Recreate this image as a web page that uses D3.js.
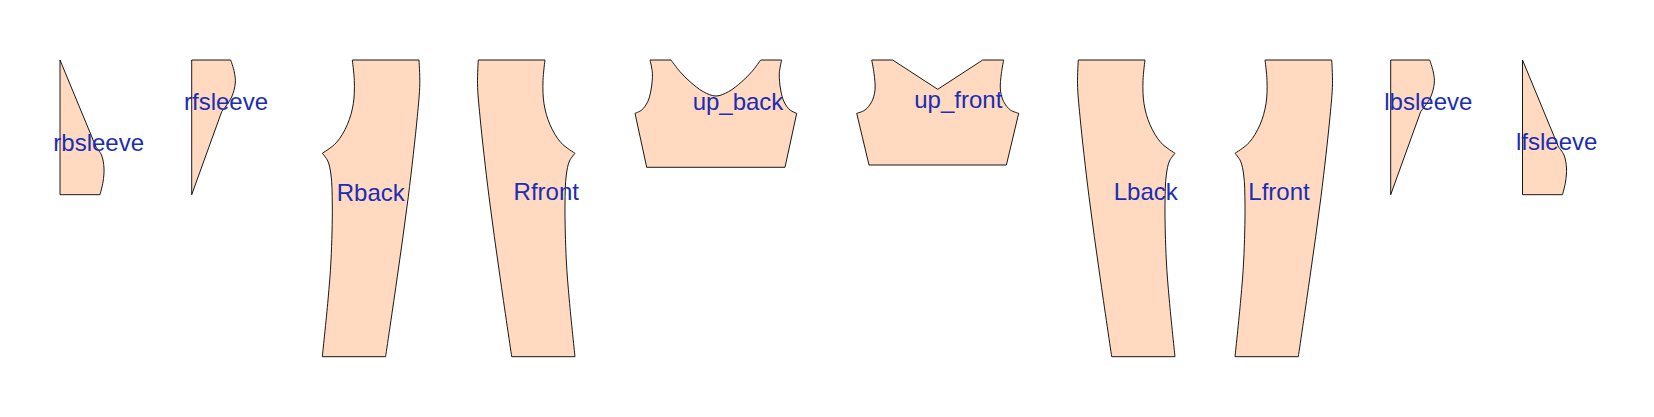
<!DOCTYPE html>
<html>
<head>
<meta charset="utf-8">
<script src="https://cdn.jsdelivr.net/npm/d3@7"></script>
<style>
    body { margin: 0; background: #ffffff; }
</style>
</head>
<body>
<div id="pattern"></div>
<script>
// Pattern pieces, each outline is a list of segments (2 points = straight, more = curve)
// units are pattern units, y goes up from the hem line
const pieceNames = ["rbsleeve", "rfsleeve", "Rback", "Rfront", "up_back", "up_front", "Lback", "Lfront", "lbsleeve", "lfsleeve"];

const rbsleeve = [
    [[0, 29.67], [3.6, 20.97]],
    [[3.6, 20.97], [4.15, 20.17], [4.4, 18.87], [4.3, 17.47], [4.0, 16.2]],
    [[4.0, 16.2], [0, 16.2]],
    [[0, 16.2], [0, 29.67]]
];
const rfsleeve = [
    [[13.17, 29.67], [17.07, 29.67]],
    [[17.07, 29.67], [17.43, 28.47], [17.53, 27.37], [17.17, 25.97], [16.6, 25.07], [16.17, 24.5]],
    [[16.17, 24.5], [13.17, 16.2]],
    [[13.17, 16.2], [13.17, 29.67]]
];
const Rback = [
    [[29.23, 29.67], [35.9, 29.67]],
    [[35.9, 29.67], [35.98, 27.3], [35.73, 24.0], [34.83, 16.0], [33.73, 8.0], [32.56, 0]],
    [[32.56, 0], [26.23, 0]],
    [[26.23, 0], [26.8, 5.67], [27.1, 9.67], [27.23, 15.17], [27.1, 18.17], [26.78, 19.57], [26.23, 20.34]],
    [[26.23, 20.34], [27.63, 21.4], [28.73, 23.2], [29.33, 25.3], [29.43, 27.6], [29.23, 29.67]]
];
const Rfront = [
    [[41.83, 29.67], [48.5, 29.67]],
    [[48.5, 29.67], [48.3, 27.6], [48.4, 25.3], [49.0, 23.2], [50.1, 21.4], [51.5, 20.34]],
    [[51.5, 20.34], [50.95, 19.57], [50.63, 18.17], [50.5, 15.17], [50.63, 9.67], [50.93, 5.67], [51.5, 0]],
    [[51.5, 0], [45.17, 0]],
    [[45.17, 0], [44.0, 8.0], [42.9, 16.0], [42.0, 24.0], [41.75, 27.3], [41.83, 29.67]]
];
const up_back = [
    [[59.0, 29.67], [61.1, 29.67]],
    [[61.1, 29.67], [62.0, 28.5], [63.0, 27.5], [64.33, 26.5], [65.59, 26.07], [66.85, 26.5], [68.18, 27.5], [69.18, 28.5], [70.07, 29.67]],
    [[70.07, 29.67], [72.17, 29.67]],
    [[72.17, 29.67], [71.93, 28.34], [72.07, 26.67], [72.4, 25.5], [73.0, 24.67], [73.67, 24.34]],
    [[73.67, 24.34], [72.5, 18.94]],
    [[72.5, 18.94], [58.67, 18.94]],
    [[58.67, 18.94], [57.5, 24.34]],
    [[57.5, 24.34], [58.17, 24.67], [58.77, 25.5], [59.1, 26.67], [59.24, 28.34], [59.0, 29.67]]
];
const up_front = [
    [[81.17, 29.67], [83.27, 29.67]],
    [[83.27, 29.67], [87.77, 26.74]],
    [[87.77, 26.74], [92.27, 29.67]],
    [[92.27, 29.67], [94.37, 29.67]],
    [[94.37, 29.67], [94.14, 28.34], [94.04, 26.67], [94.37, 25.5], [95.04, 24.67], [95.87, 24.34]],
    [[95.87, 24.34], [94.64, 19.17]],
    [[94.64, 19.17], [80.9, 19.17]],
    [[80.9, 19.17], [79.67, 24.34]],
    [[79.67, 24.34], [80.5, 24.67], [81.17, 25.5], [81.5, 26.67], [81.4, 28.34], [81.17, 29.67]]
];
const Lback = [
    [[101.83, 29.67], [108.5, 29.67]],
    [[108.5, 29.67], [108.3, 27.6], [108.4, 25.3], [109.0, 23.2], [110.1, 21.4], [111.5, 20.34]],
    [[111.5, 20.34], [110.95, 19.57], [110.63, 18.17], [110.5, 15.17], [110.63, 9.67], [110.93, 5.67], [111.5, 0]],
    [[111.5, 0], [105.17, 0]],
    [[105.17, 0], [104.0, 8.0], [102.9, 16.0], [102.0, 24.0], [101.75, 27.3], [101.83, 29.67]]
];
const Lfront = [
    [[120.5, 29.67], [127.17, 29.67]],
    [[127.17, 29.67], [127.25, 27.3], [127.0, 24.0], [126.1, 16.0], [125.0, 8.0], [123.83, 0]],
    [[123.83, 0], [117.5, 0]],
    [[117.5, 0], [118.07, 5.67], [118.37, 9.67], [118.5, 15.17], [118.37, 18.17], [118.05, 19.57], [117.5, 20.34]],
    [[117.5, 20.34], [118.9, 21.4], [120.0, 23.2], [120.6, 25.3], [120.7, 27.6], [120.5, 29.67]]
];
const lbsleeve = [
    [[133.07, 29.67], [136.97, 29.67]],
    [[136.97, 29.67], [137.33, 28.47], [137.43, 27.37], [137.07, 25.97], [136.5, 25.07], [136.07, 24.5]],
    [[136.07, 24.5], [133.07, 16.2]],
    [[133.07, 16.2], [133.07, 29.67]]
];
const lfsleeve = [
    [[146.25, 29.67], [149.85, 20.97]],
    [[149.85, 20.97], [150.4, 20.17], [150.65, 18.87], [150.55, 17.47], [150.25, 16.2]],
    [[150.25, 16.2], [146.25, 16.2]],
    [[146.25, 16.2], [146.25, 29.67]]
];

// label anchor points (centre of the text)
const labelX = [3.87, 16.6, 31.08, 48.63, 67.8, 89.83, 108.58, 121.9, 136.83, 149.67];
const labelY = [21.41, 25.51, 16.46, 16.51, 25.51, 25.68, 16.51, 16.51, 25.51, 21.51];

const outlines = [rbsleeve, rfsleeve, Rback, Rfront, up_back, up_front, Lback, Lfront, lbsleeve, lfsleeve];

// SVG Setup
let svgWidth = 1654;
let svgHeight = 417;

let svg = d3.select("#pattern")
    .append("svg")
    .attr("width", svgWidth)
    .attr("height", svgHeight);

// scales (pattern units -> px)
let xScale = d3.scaleLinear()
    .domain([-6, 159.4])
    .range([0, svgWidth]);
let yScale = d3.scaleLinear()
    .domain([-6.03, 35.67])
    .range([svgHeight, 0]);

// one path string per piece, segments glued together
function piecePath(segments) {
    let parts = segments.map((seg, i) => {
        let gen = d3.line()
            .x(p => xScale(p[0]))
            .y(p => yScale(p[1]))
            .curve(seg.length > 2 ? d3.curveCatmullRom.alpha(0.5) : d3.curveLinear);
        let d = gen(seg);
        return i === 0 ? d : "L" + d.slice(1);
    });
    return parts.join("") + "Z";
}

let pieces = pieceNames.map((name, i) => ({
    name: name,
    outline: outlines[i],
    lx: labelX[i],
    ly: labelY[i]
}));

// pieces
svg.append("g")
    .selectAll("path")
    .data(pieces)
    .enter()
    .append("path")
    .attr("d", d => piecePath(d.outline))
    .attr("fill", "#FFDAC0")
    .attr("stroke", "#000000")
    .attr("stroke-width", 0.9)
    .attr("stroke-linejoin", "miter");

// labels on top
svg.append("g")
    .selectAll("text")
    .data(pieces)
    .enter()
    .append("text")
    .attr("x", d => xScale(d.lx))
    .attr("y", d => yScale(d.ly))
    .attr("dy", "0.35em")
    .attr("text-anchor", "middle")
    .attr("font-family", "'Liberation Sans', Arial, Helvetica, sans-serif")
    .attr("font-size", "24px")
    .attr("fill", "#1a2db4")
    .text(d => d.name);
</script>
</body>
</html>
